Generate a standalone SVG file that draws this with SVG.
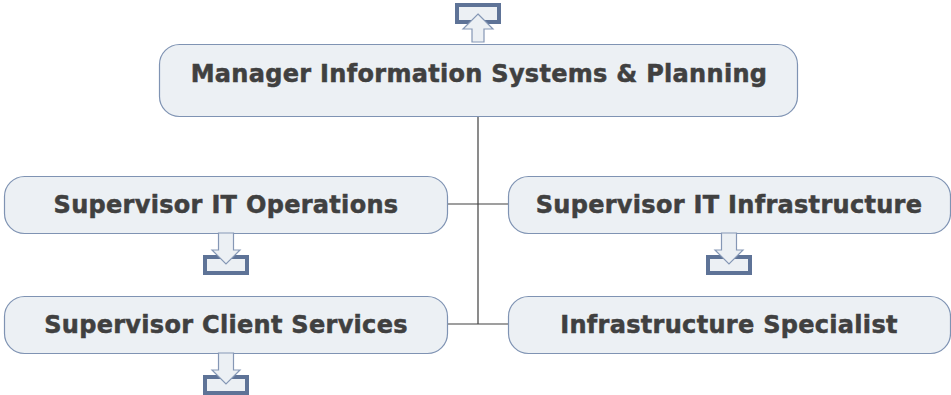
<svg xmlns="http://www.w3.org/2000/svg" width="951" height="395" viewBox="0 0 951 395">
<style>
.node{fill:#ECF0F4;stroke:#7F93B3;stroke-width:1.2}
.t{font-family:"DejaVu Sans",sans-serif;font-weight:bold;font-size:24px;letter-spacing:0.3px;fill:#404040;stroke:#404040;stroke-width:0.5px;text-anchor:middle}
.line{stroke:#404040;stroke-width:1.2;fill:none}
.ib{fill:#ECF0F4;stroke:#5E7397;stroke-width:4}
.ia{fill:#ECF0F4;stroke:#8597B5;stroke-width:1.2}
</style>
<defs>
<g id="down">
<rect class="ib" x="-21" y="24" width="42" height="16"/>
<path class="ia" d="M-7.5,0 H7.5 V17 H14 L0,31 L-14,17 H-7.5 Z"/>
</g>
</defs>
<g id="connectors">
<path class="line" d="M478,117 V324 M448,204 H508 M448,324 H508"/>
</g>
<g id="icon-top">
<rect class="ib" x="457" y="5" width="42" height="17"/>
<path class="ia" d="M478,14 L493,29 H484 V42 H472 V29 H463 Z"/>
</g>
<g id="n-manager">
<rect class="node" x="159.5" y="44.5" width="638" height="72" rx="20"/>
<text class="t" x="479" y="82">Manager Information Systems &amp; Planning</text>
</g>
<g id="n-ops">
<rect class="node" x="4.5" y="176.5" width="443" height="57" rx="20"/>
<text class="t" x="226" y="212.5">Supervisor IT Operations</text>
</g>
<use href="#down" x="226" y="233"/>
<g id="n-infra">
<rect class="node" x="508.5" y="176.5" width="442" height="57" rx="20"/>
<text class="t" x="729" y="212.5">Supervisor IT Infrastructure</text>
</g>
<use href="#down" x="729" y="233"/>
<g id="n-client">
<rect class="node" x="4.5" y="296.5" width="443" height="57" rx="20"/>
<text class="t" x="226" y="332.5">Supervisor Client Services</text>
</g>
<use href="#down" x="226" y="353"/>
<g id="n-spec">
<rect class="node" x="508.5" y="296.5" width="442" height="57" rx="20"/>
<text class="t" x="729" y="332.5">Infrastructure Specialist</text>
</g>
</svg>
